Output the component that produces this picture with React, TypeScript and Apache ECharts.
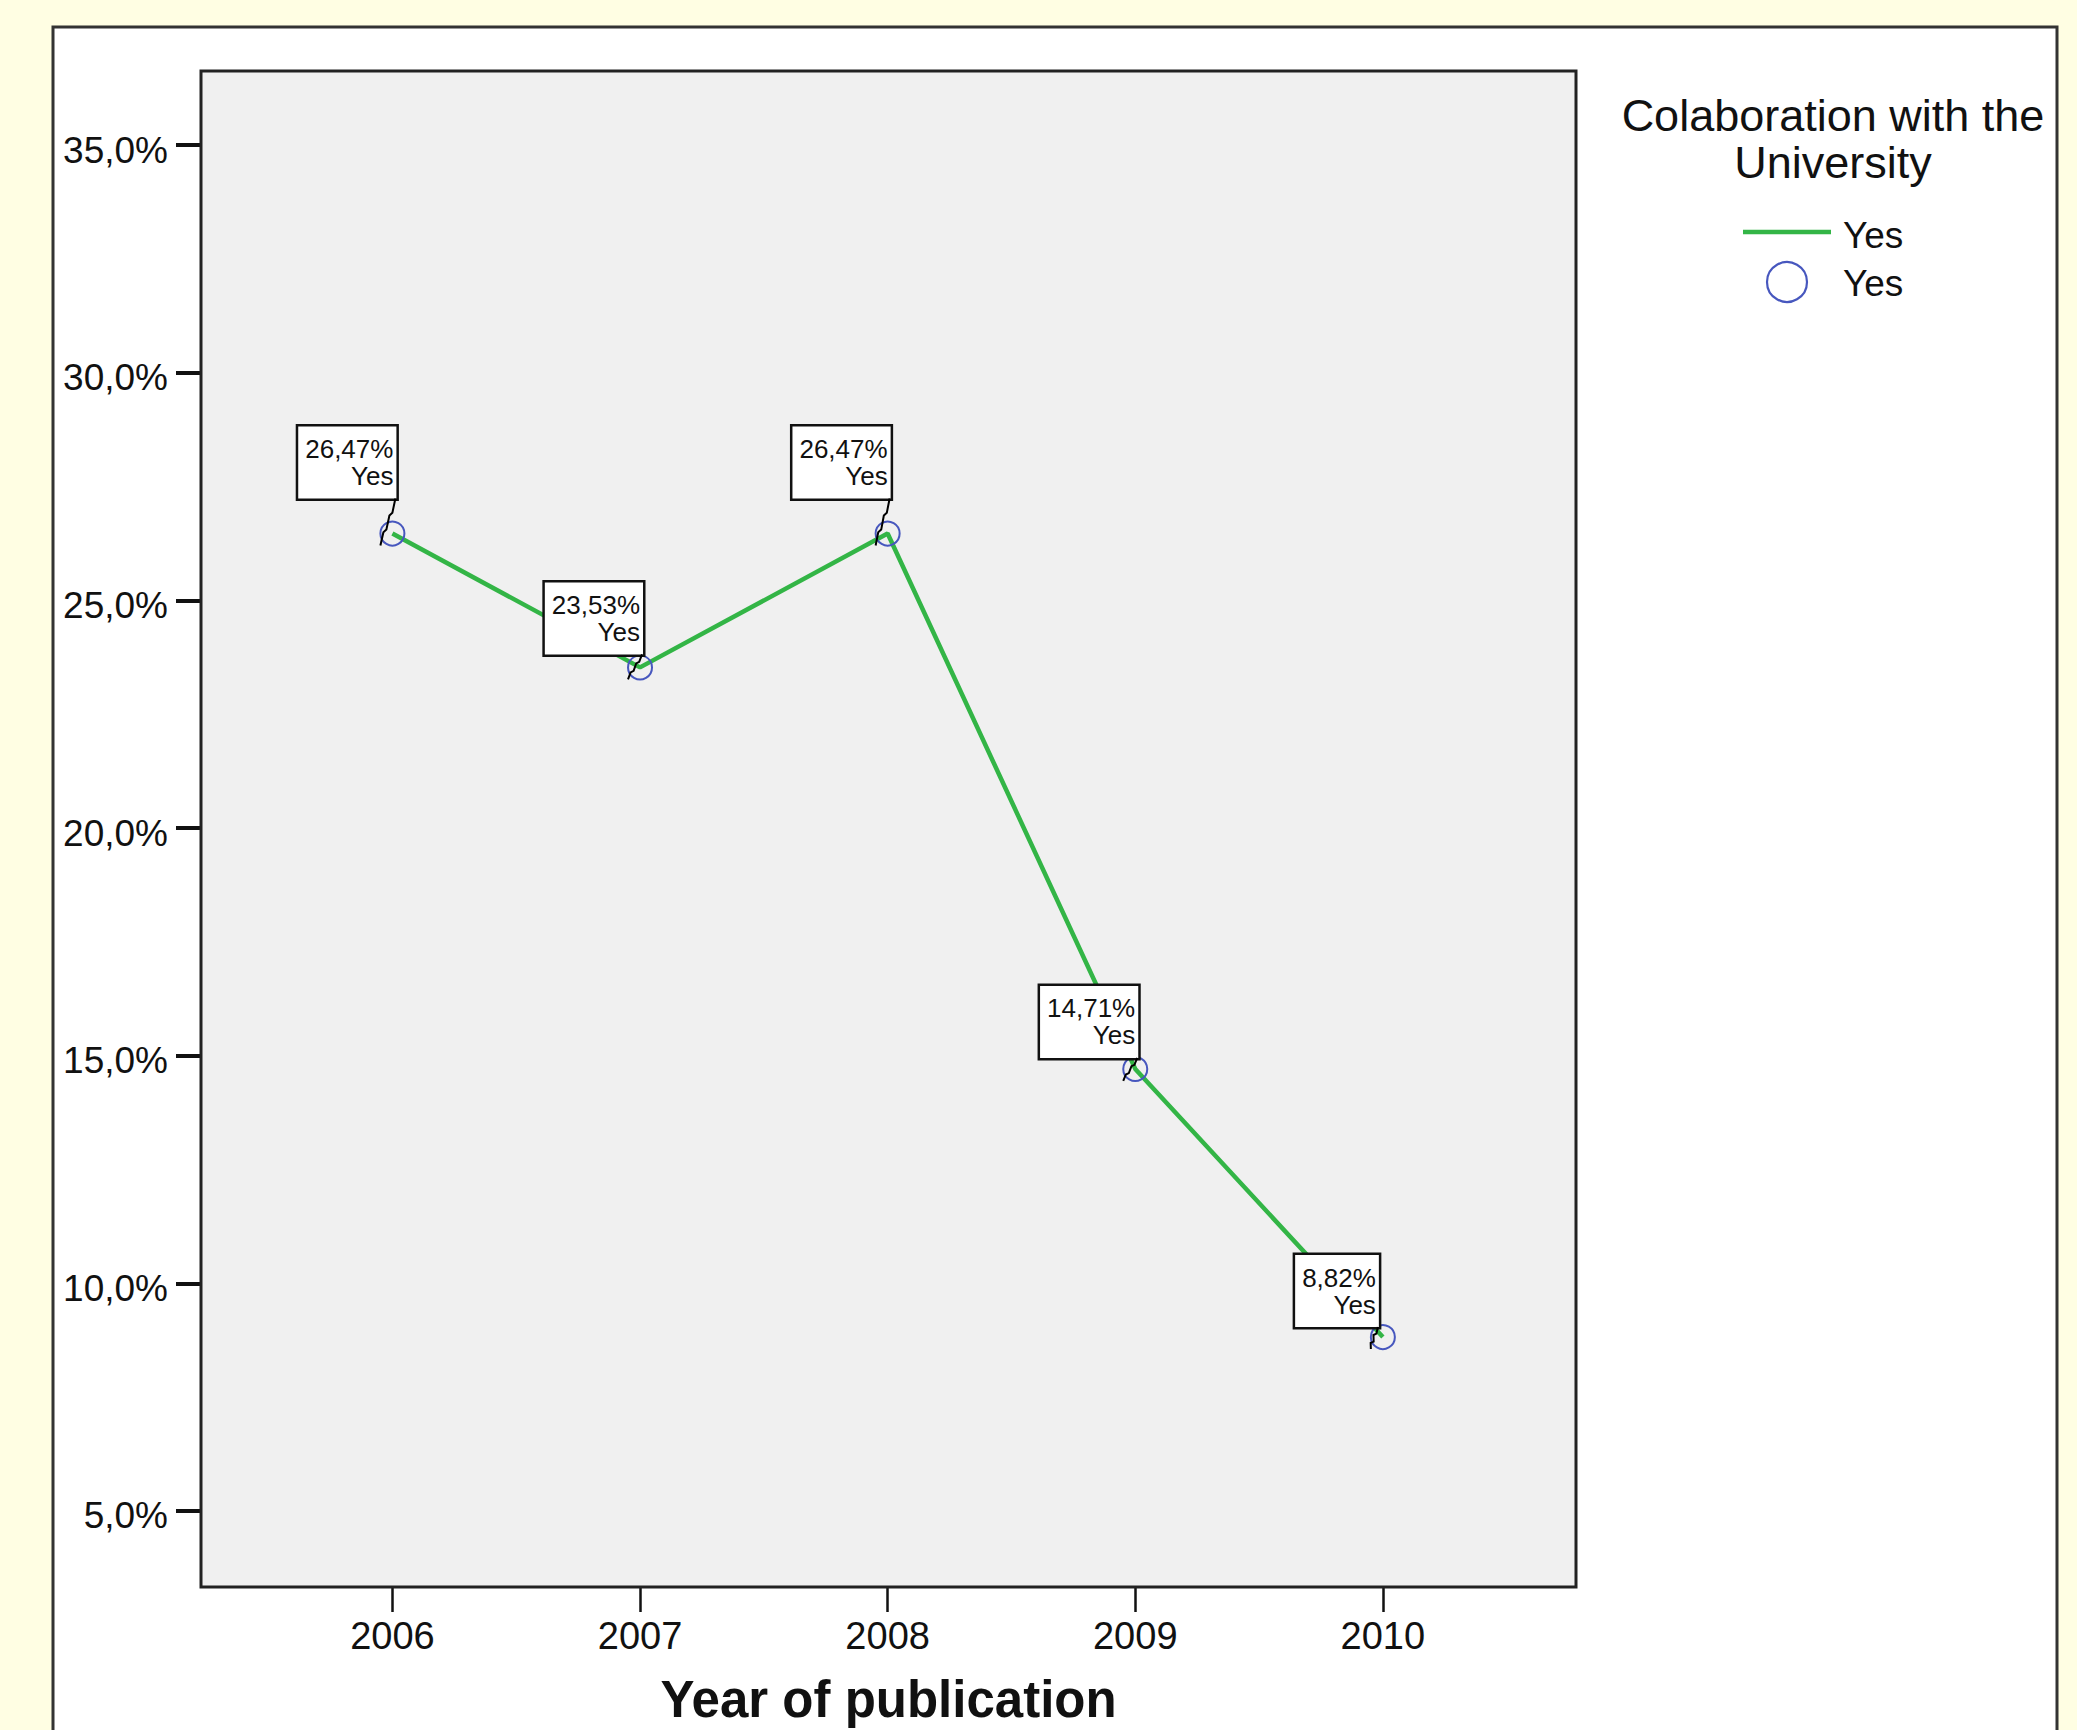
import React, { useEffect, useRef } from 'react';
import * as echarts from 'echarts';

// ---- data ----
const years = [2006, 2007, 2008, 2009, 2010];
const percentages = [26.47, 23.53, 26.47, 14.71, 8.82];
const groupName = 'Yes';
const yTickValues = [5, 10, 15, 20, 25, 30, 35];
const xTickValues = [2006, 2007, 2008, 2009, 2010];
const legendTitleLines = ['Colaboration with the', 'University'];
const xAxisTitle = 'Year of publication';

// label box placement (px offsets of box bottom-right corner from the point)
const labelOffsets: number[][] = [
  [4, -35],
  [3, -13],
  [3, -35],
  [3, -11],
  [-4, -10],
];

const FONT = '"Liberation Sans", Arial, Helvetica, sans-serif';
const GREEN = '#33B546';
const BLUE = '#4757BE';

const fmtPct = (v: number, d: number) => v.toFixed(d).replace('.', ',') + '%';

export default function App() {
  const ref = useRef<HTMLDivElement>(null);

  useEffect(() => {
    document.body.style.margin = '0';
    if (!ref.current) return;
    const chart = echarts.init(ref.current, null, { renderer: 'svg' });

    const pointData = years.map((y, i) => ({
      value: [y, percentages[i]],
      label: { offset: labelOffsets[i] },
    }));

    const option: any = {
      animation: false,
      backgroundColor: '#FFFEE3',
      textStyle: { fontFamily: FONT },
      grid: {
        show: true,
        left: 201,
        top: 71,
        right: 501,
        bottom: 142,
        backgroundColor: '#F0F0F0',
        borderColor: '#222',
        borderWidth: 3,
        z: 1,
      },
      xAxis: {
        type: 'value',
        min: 2005.227,
        max: 2010.78,
        name: xAxisTitle,
        nameLocation: 'middle',
        nameGap: 87,
        nameTextStyle: {
          fontFamily: FONT,
          fontSize: 51,
          fontWeight: 'bold',
          color: '#111',
        },
        axisLine: { show: false },
        splitLine: { show: false },
        axisTick: {
          show: true,
          length: 25,
          lineStyle: { color: '#111', width: 2.5 },
          customValues: xTickValues,
        },
        axisLabel: {
          customValues: xTickValues,
          margin: 30,
          fontFamily: FONT,
          fontSize: 38,
          color: '#111',
          formatter: (v: number) => String(Math.round(v)),
        },
      },
      yAxis: {
        type: 'value',
        min: 3.33,
        max: 36.63,
        axisLine: { show: false },
        splitLine: { show: false },
        axisTick: {
          show: true,
          length: 25,
          lineStyle: { color: '#111', width: 4 },
          customValues: yTickValues,
        },
        axisLabel: {
          customValues: yTickValues,
          margin: 33,
          fontFamily: FONT,
          fontSize: 37,
          color: '#111',
          verticalAlign: 'top',
          lineHeight: 10,
          formatter: (v: number) => fmtPct(v, 1),
        },
      },
      graphic: [
        {
          type: 'rect',
          z: -10,
          silent: true,
          shape: { x: 53, y: 27, width: 2004, height: 1780 },
          style: { fill: '#FFFFFF', stroke: '#333', lineWidth: 3 },
        },
        {
          type: 'text',
          z: 10,
          x: 1833,
          y: 115,
          style: {
            text: legendTitleLines[0],
            fontFamily: FONT,
            fontSize: 45,
            fill: '#111',
            align: 'center',
            verticalAlign: 'middle',
          },
        },
        {
          type: 'text',
          z: 10,
          x: 1833,
          y: 162,
          style: {
            text: legendTitleLines[1],
            fontFamily: FONT,
            fontSize: 45,
            fill: '#111',
            align: 'center',
            verticalAlign: 'middle',
          },
        },
        {
          type: 'line',
          z: 10,
          shape: { x1: 1743, y1: 232, x2: 1831, y2: 232 },
          style: { stroke: GREEN, lineWidth: 4.5 },
        },
        {
          type: 'text',
          z: 10,
          x: 1843,
          y: 235,
          style: {
            text: groupName,
            fontFamily: FONT,
            fontSize: 37,
            fill: '#111',
            align: 'left',
            verticalAlign: 'middle',
          },
        },
        {
          type: 'circle',
          z: 10,
          shape: { cx: 1787, cy: 282, r: 20 },
          style: { fill: 'none', stroke: BLUE, lineWidth: 2.2 },
        },
        {
          type: 'text',
          z: 10,
          x: 1843,
          y: 283,
          style: {
            text: groupName,
            fontFamily: FONT,
            fontSize: 37,
            fill: '#111',
            align: 'left',
            verticalAlign: 'middle',
          },
        },
      ],
      series: [
        {
          type: 'line',
          name: groupName,
          z: 3,
          data: pointData,
          symbol: 'circle',
          symbolSize: 24,
          lineStyle: { color: GREEN, width: 4.5 },
          itemStyle: {
            color: 'rgba(0,0,0,0)',
            borderColor: BLUE,
            borderWidth: 2,
          },
          label: {
            show: true,
            position: 'inside',
            align: 'right',
            verticalAlign: 'bottom',
            fontFamily: FONT,
            fontSize: 26,
            lineHeight: 27,
            color: '#111',
            backgroundColor: '#FFFFFF',
            borderColor: '#111',
            borderWidth: 2.5,
            padding: [9, 3, 9, 7],
            formatter: (p: any) => fmtPct(p.value[1], 2) + '\n' + groupName,
          },
          emphasis: { disabled: true },
        },
        {
          type: 'custom',
          z: 4,
          clip: false,
          data: years.map((y, i) => [y, percentages[i]]),
          renderItem: (params: any, api: any) => {
            const p = api.coord([api.value(0), api.value(1)]);
            const off = labelOffsets[params.dataIndex];
            const sx = p[0] + off[0] - 1;
            const sy = p[1] + off[1];
            const ex = p[0] - 12;
            const ey = p[1] + 12;
            const dx = ex - sx;
            const dy = ey - sy;
            const points = [
              [sx, sy],
              [sx + dx * 0.2, sy + dy * 0.3],
              [sx + dx * 0.2 - 3, sy + dy * 0.36],
              [sx + dx * 0.6, sy + dy * 0.66],
              [sx + dx * 0.6 - 3, sy + dy * 0.72],
              [ex, ey],
            ];
            return {
              type: 'polyline',
              shape: { points },
              style: { stroke: '#000', lineWidth: 2, fill: null },
            };
          },
        },
      ],
    };

    chart.setOption(option);
    return () => chart.dispose();
  }, []);

  return <div ref={ref} style={{ width: 2077, height: 1730 }} />;
}
